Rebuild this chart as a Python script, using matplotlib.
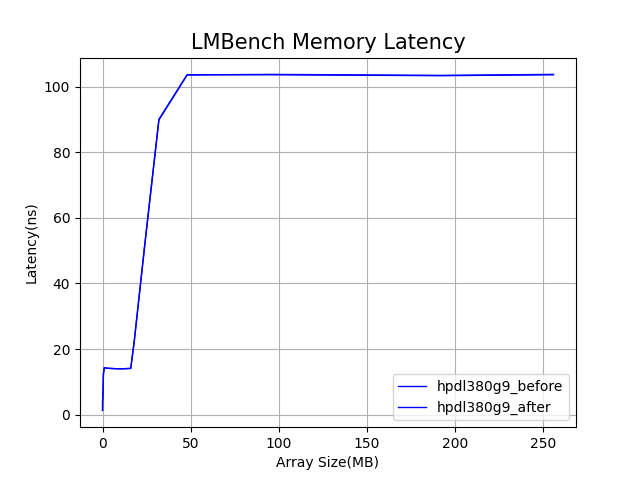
import matplotlib
matplotlib.use("Agg")
import matplotlib.pyplot as plt

sizes_mb = [0.00049, 0.00098, 0.00195, 0.0039, 0.0078, 0.0156, 0.03125, 0.0625,
            0.125, 0.25, 0.5, 1, 2, 4, 8, 12, 16, 18, 24, 32, 48, 64, 96, 128, 192, 256]
before = [1.3, 1.3, 1.3, 1.3, 1.3, 1.4, 4.2, 4.3, 4.5, 6.5, 12.5, 14.3, 14.2, 14.1, 14.0,
          14.0, 14.1, 22.5, 52.0, 90.0, 103.6, 103.6, 103.7, 103.6, 103.4, 103.7]
after = [1.3, 1.3, 1.3, 1.3, 1.3, 1.4, 4.2, 4.3, 4.5, 6.4, 12.4, 14.3, 14.2, 14.1, 14.0,
         14.0, 14.1, 22.3, 51.8, 89.8, 103.5, 103.6, 103.6, 103.5, 103.3, 103.6]

fig, ax = plt.subplots(figsize=(6.4, 4.8), dpi=100)
ax.plot(sizes_mb, before, color="blue", linewidth=1.0, label="hpdl380g9_before")
ax.plot(sizes_mb, after, color="blue", linewidth=1.0, label="hpdl380g9_after")
ax.set_title("LMBench Memory Latency", fontsize=15)
ax.set_xlabel("Array Size(MB)")
ax.set_ylabel("Latency(ns)")
ax.grid(True)
ax.legend(loc="lower right")
fig.savefig("out.png")
